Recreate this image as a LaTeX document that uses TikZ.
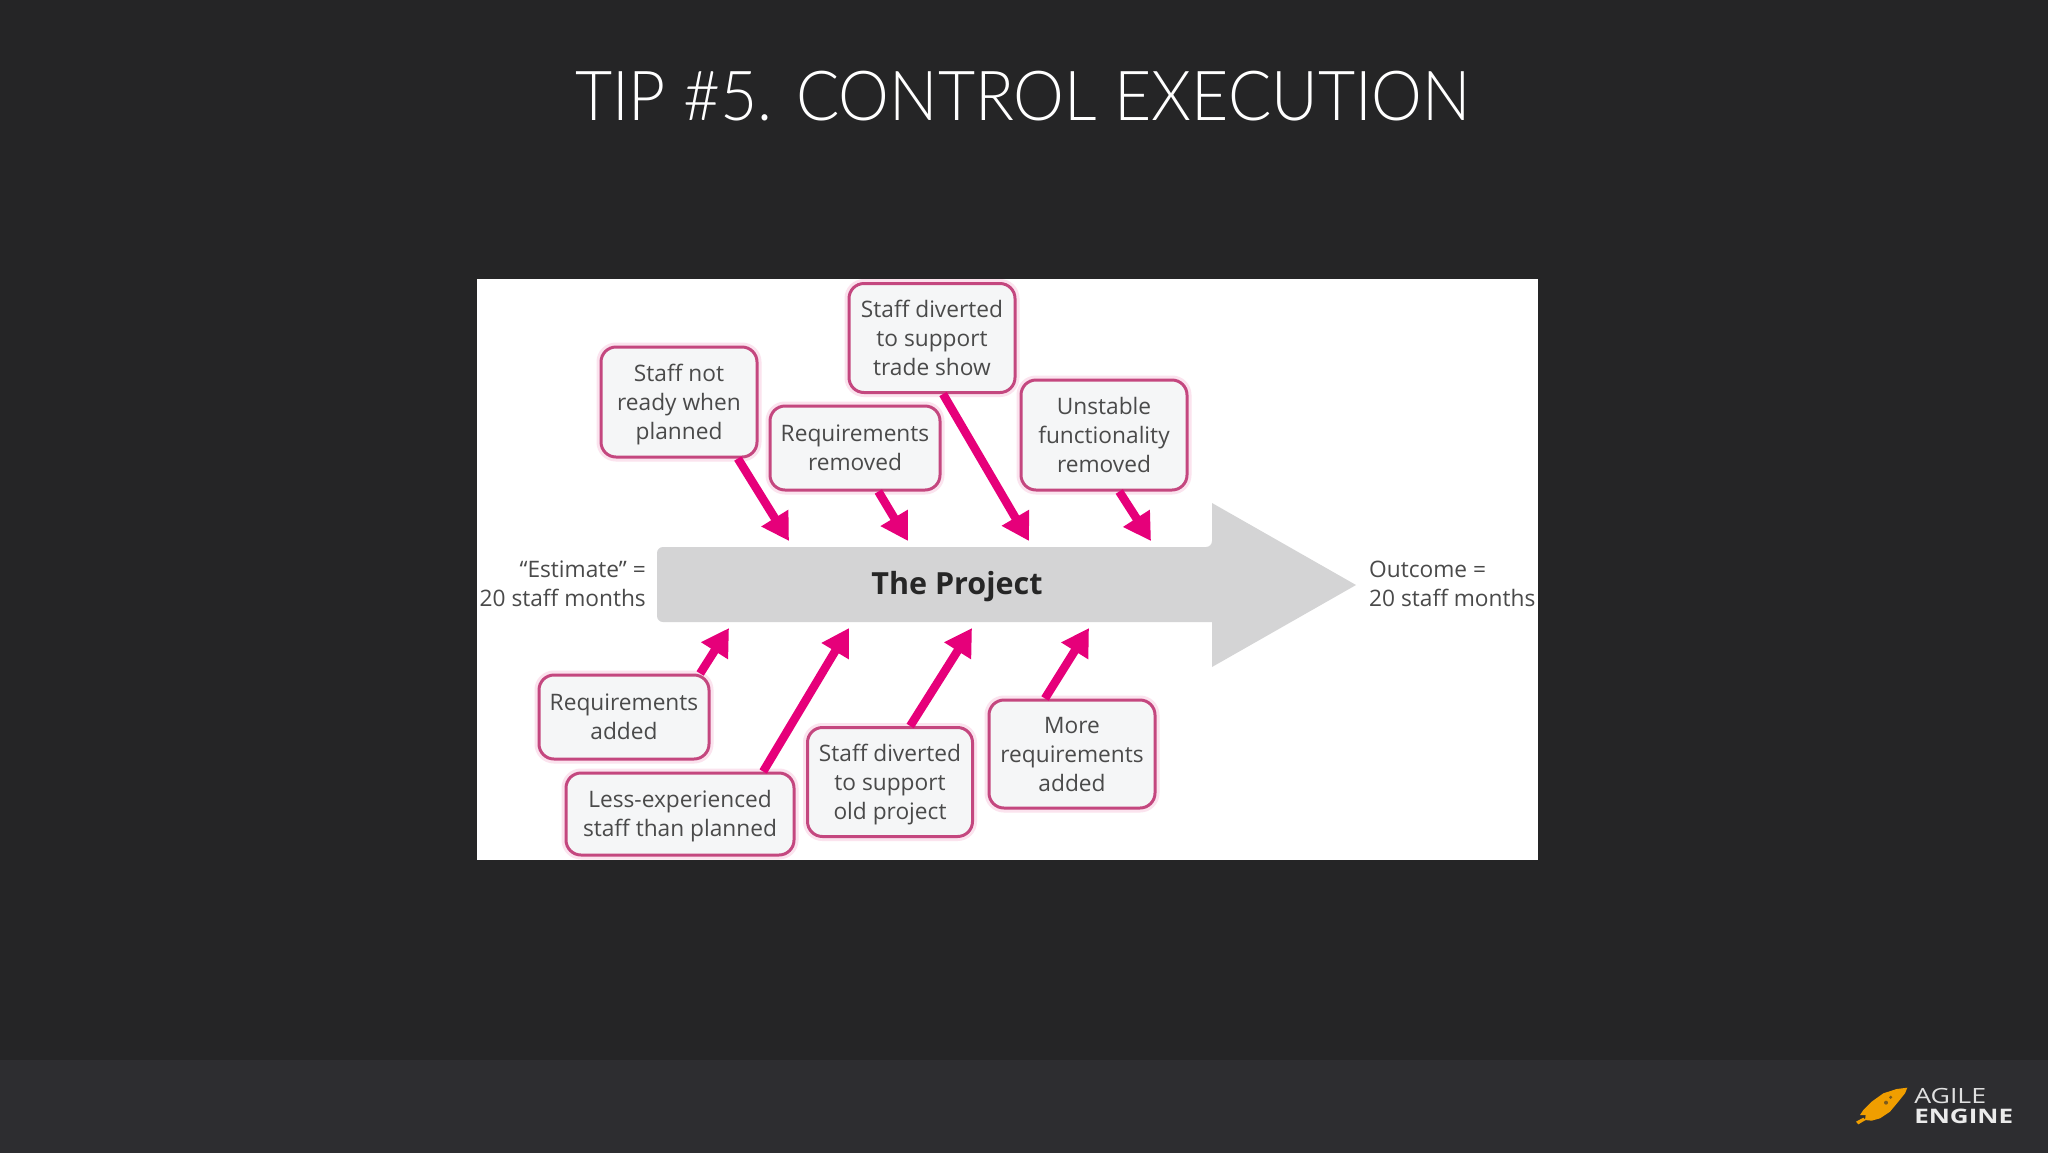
\documentclass[tikz,border=0pt]{standalone}
\usepackage{fontspec}
\setmainfont{Open Sans}
\newfontfamily\titlefont{Lato Light}
\newfontfamily\logofont{Open Sans}
\usetikzlibrary{arrows.meta,calc}
\definecolor{slidebg}{HTML}{252526}
\definecolor{bandbg}{HTML}{2D2D30}
\definecolor{hotpink}{HTML}{E6007A}
\definecolor{boxedge}{HTML}{C4477F}
\definecolor{boxglow}{HTML}{FBE3EE}
\definecolor{boxfill}{HTML}{F5F6F7}
\definecolor{inktext}{HTML}{4A4A4A}
\definecolor{projgray}{HTML}{D4D4D5}
\definecolor{rocket}{HTML}{F09E00}
\newcommand{\lowerfirst}{\rule{0pt}{22pt}}
\tikzset{
  x=1pt,y=-1pt,
  cause/.style={draw=boxedge,line width=3pt,fill=boxfill,rounded corners=15pt,inner sep=0pt,
    align=center,text=inktext,font=\fontsize{22.7}{29}\selectfont,
    preaction={draw=boxglow,line width=9pt}},
  flow/.style={draw=hotpink,line width=8.5pt,-{Triangle[length=27pt,width=30pt]}},
  side/.style={text=inktext,font=\fontsize{22.7}{29}\selectfont,inner sep=0pt},
}
\begin{document}
\begin{tikzpicture}
\useasboundingbox (0,0) rectangle (2048,1152);
\fill[slidebg] (-5,-5) rectangle (2053,1160);
\fill[bandbg] (-5,1060) rectangle (2053,1160);
\node[text=white,inner sep=0pt,xscale=0.93,font=\titlefont\fontsize{69}{70}\selectfont] (title) at (1023,96) {TIP \#5. CONTROL EXECUTION};
\fill[white] (477,279) rectangle (1538,860);
% big arrow
\path[fill=projgray,rounded corners=6pt] (657,547) -- (1212,547) [sharp corners] -- (1212,503) -- (1356,585) -- (1212,667) -- (1212,622) [rounded corners=6pt] -- (657,622) -- cycle;
\node[font=\bfseries\fontsize{30.5}{36}\selectfont,text=black!85,inner sep=0pt] (proj) at (957,587) {The Project};
\node[side,align=right,anchor=east] (est) at (646,584) {“Estimate” =\\20 staff months};
\node[side,align=left,anchor=west] (out) at (1369,584) {Outcome =\\20 staff months};
% boxes
\node[cause,minimum width=156pt,minimum height=110pt] (a) at (679,402) {\lowerfirst Staff not\\ready when\\planned};
\node[cause,minimum width=170pt,minimum height=84pt] (b) at (855,448) {Requirements\\removed};
\node[cause,minimum width=166pt,minimum height=109pt] (c) at (932,338) {Staff diverted\\to support\\trade show};
\node[cause,minimum width=166pt,minimum height=110pt] (d) at (1104,435) {Unstable\\functionality\\removed};
\node[cause,minimum width=170pt,minimum height=84pt] (e) at (624,717) {Requirements\\added};
\node[cause,minimum width=228pt,minimum height=82pt] (f) at (680,814) {\lowerfirst Less-experienced\\staff than planned};
\node[cause,minimum width=165pt,minimum height=109pt] (g) at (890,782) {\lowerfirst Staff diverted\\to support\\old project};
\node[cause,minimum width=166pt,minimum height=108pt] (h) at (1072,754) {More\\requirements\\added};
% arrow ends
\coordinate (ta) at (789,541);
\coordinate (tb) at (908,541);
\coordinate (tc) at (1029,541);
\coordinate (td) at (1151,541);
\coordinate (te) at (729,628);
\coordinate (tf) at (849,628);
\coordinate (tg) at (972,628);
\coordinate (th) at (1089,628);
\draw[flow] ($(a.south west)!0.87!(a.south east)$) -- (ta);
\draw[flow] ($(b.south west)!0.635!(b.south east)$) -- (tb);
\draw[flow] ($(c.south west)!0.565!(c.south east)$) -- (tc);
\draw[flow] ($(d.south west)!0.59!(d.south east)$) -- (td);
\draw[flow] ($(e.north west)!0.94!(e.north east)$) -- (te);
\draw[flow] ($(f.north west)!0.86!(f.north east)$) -- (tf);
\draw[flow] ($(g.north west)!0.62!(g.north east)$) -- (tg);
\draw[flow] ($(h.north west)!0.34!(h.north east)$) -- (th);
% logo
\begin{scope}[shift={(1800,1040)},x=0.3333pt,y=-0.3333pt]
\fill[rocket] (322,143) -- (290,147) -- (250,160) -- (215,185) -- (190,210) -- (180,225) -- (197,225) -- (195,240) -- (215,242) -- (240,235) -- (270,215) -- (295,185) -- (315,160) -- cycle;
\fill[rocket] (168,245) -- (190,233) -- (197,240) -- (175,253) -- cycle;
\fill[bandbg!60!rocket] (258,188) circle (6);
\fill[bandbg!60!rocket] (272,172) circle (5);
\end{scope}
\node[text=white!88!black,inner sep=0pt,anchor=west,xscale=1.27,font=\logofont\fontsize{21}{21}\selectfont] (agile) at (1914,1096) {AGILE};
\node[text=white!92!black,inner sep=0pt,anchor=west,xscale=1.3,font=\logofont\bfseries\fontsize{20}{20}\selectfont] (engine) at (1914,1116) {ENGINE};
\end{tikzpicture}
\end{document}
